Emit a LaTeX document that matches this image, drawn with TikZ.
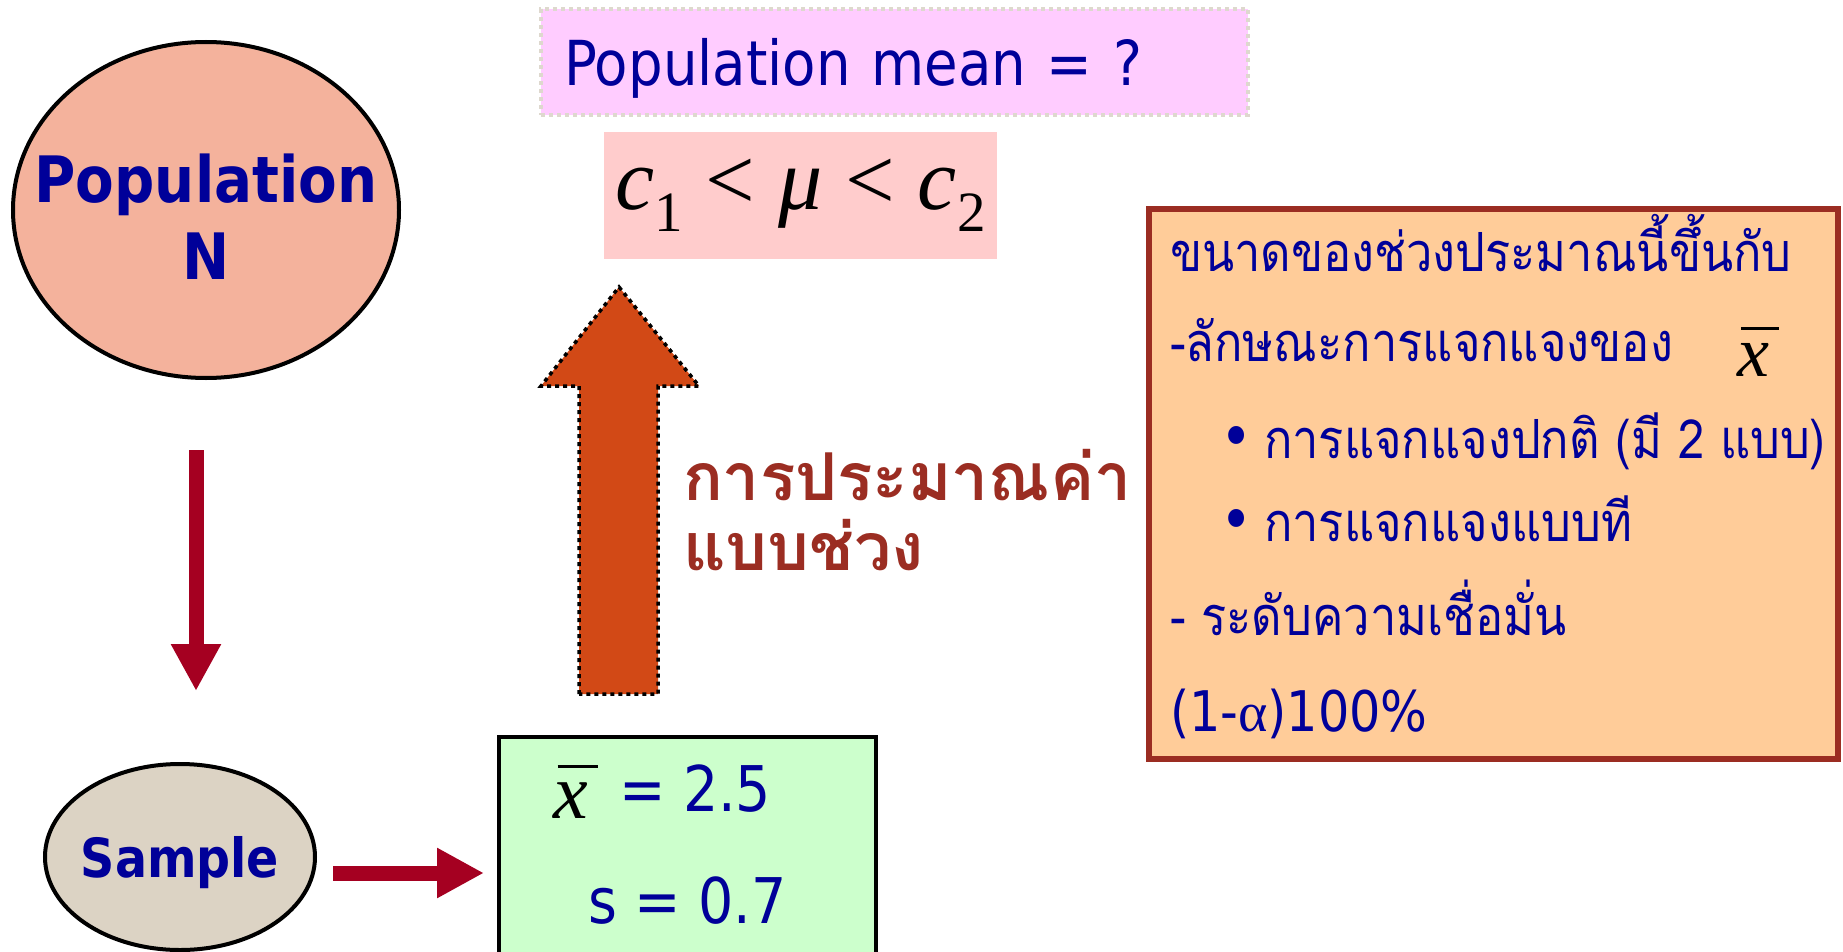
\documentclass[tikz,border=0pt]{standalone}
\usepackage[no-math]{fontspec}
\setmainfont[FakeStretch=0.88]{DejaVu Sans}
\newfontfamily\thai[Script=Thai,FakeStretch=0.87]{Loma}
\newfontfamily\thaib[Script=Thai]{Loma}
\newfontfamily\tnr{Liberation Serif}
\usetikzlibrary{shapes.geometric,arrows.meta}
\definecolor{navy}{HTML}{000099}
\definecolor{salmon}{HTML}{F4B29C}
\definecolor{beige}{HTML}{DCD3C4}
\definecolor{darkred}{HTML}{A50021}
\definecolor{lilac}{HTML}{FFCCFF}
\definecolor{pinkbox}{HTML}{FFCCCC}
\definecolor{orangearrow}{HTML}{D24916}
\definecolor{brick}{HTML}{9B2D22}
\definecolor{peach}{HTML}{FFCC99}
\definecolor{mint}{HTML}{CCFFCC}
\definecolor{dotgray}{HTML}{DED8CE}
\newcommand\xbarsym{{\tnr\itshape\rlap{\hspace{0.06em}\rule[0.64em]{0.52em}{0.04em}}x}}
\newcommand\subdig[1]{\raisebox{-0.25em}{\fontsize{57}{57}\selectfont\upshape #1}}
\begin{document}
\begin{tikzpicture}[x=1pt,y=-1pt,
  every node/.style={inner sep=0pt,outer sep=0pt},
  popell/.style={ellipse,draw=black,line width=4pt,fill=salmon,
    minimum width=386pt,minimum height=336pt},
  poptext/.style={align=center,text=navy,font=\bfseries\fontsize{64}{77}\selectfont},
  samell/.style={ellipse,draw=black,line width=4pt,fill=beige,
    minimum width=270pt,minimum height=186pt,inner xsep=-12pt,
    text=navy,text depth=0pt,font=\bfseries\fontsize{54}{60}\selectfont},
  redarrow/.style={draw=darkred,line width=15pt,-{Triangle[width=47pt,length=47pt]}},
  meanbox/.style={rectangle,fill=lilac,draw=dotgray,line width=4pt,
    dash pattern=on 4pt off 4pt,minimum width=707pt,minimum height=106pt,
    text width=661pt,align=left,text depth=0pt,text=navy,
    font=\fontsize{62}{70}\selectfont},
  cibox/.style={rectangle,fill=pinkbox,minimum width=393pt,minimum height=127pt,
    text height=27pt,text depth=0pt,
    font=\fontsize{88}{90}\selectfont\tnr\itshape},
  bigarrow/.style={fill=orangearrow,draw=black,line width=3.5pt,
    dash pattern=on 4pt off 4pt},
  estlabel/.style={anchor=base west,text=brick,font=\thaib\bfseries\fontsize{66}{70}\selectfont},
  infobox/.style={rectangle,fill=peach,draw=brick,line width=6pt,
    minimum width=689pt,minimum height=550pt},
  infotext/.style={anchor=base west,text=navy,font=\thai\fontsize{54}{60}\selectfont},
  bulletdot/.style={anchor=base west,text=navy,font=\fontsize{62}{64}\selectfont},
  stattext/.style={anchor=base west,text=navy,font=\fontsize{63}{70}\selectfont},
  statbox/.style={rectangle,fill=mint,draw=black,line width=4pt,
    minimum width=377pt,minimum height=230pt}
]
\useasboundingbox (0,0) rectangle (1843,952);

% population and sample
\node[popell] (pop) at (206,210) {};
\node[poptext] (poplabel) at ([yshift=-7pt]pop.center) {Population\\N};
\node[samell] (sample) at (180,857) {Sample};
\draw[redarrow,shorten <=72pt,shorten >=73pt]
  ([xshift=-10pt]pop.south) -- ([xshift=16pt]sample.north);

% statistics box
\node[statbox,anchor=north west] (stat) at (499,737) {};
\node[anchor=base west,font=\fontsize{78}{80}\selectfont] (xb) at (553,818) {\xbarsym};
\node[stattext] (xv) at (619,811) {= 2.5};
\node[stattext] (sv) at (588,923) {s = 0.7};
\draw[redarrow,shorten <=18pt,shorten >=15pt]
  ([yshift=-16pt]sample.east) -- ([yshift=-21pt]stat.west);

% estimation arrow
\filldraw[bigarrow] (579,694) -- (579,386) -- (541,386) -- (619,287)
  -- (699,386) -- (658,386) -- (658,694) -- cycle;
\node[estlabel] (est1) at (683,500) {การประมาณค่า};
\node[estlabel] (est2) at (683,570) {แบบช่วง};

% top boxes
\node[meanbox,anchor=north west] (mean) at (541,9) {Population mean = ?};
\node[cibox] (ci) at (800.5,195.5)
  {c\subdig{1}\hspace{0.26em}{\upshape <}\hspace{0.26em}μ\hspace{0.26em}{\upshape <}\hspace{0.26em}c\subdig{2}};

% information box
\node[infobox,anchor=north west] (info) at (1149,209) {};
\node[infotext] (l1) at (1170,271) {ขนาดของช่วงประมาณนี้ขึ้นกับ};
\node[infotext] (l2) at (1170,361) {-ลักษณะการแจกแจงของ};
\node[anchor=base west,font=\fontsize{72}{76}\selectfont] (l2x) at (1737,376) {\xbarsym};
\node[bulletdot] (b1) at (1220,458) {•};
\node[infotext] (l3) at (1264,458) {การแจกแจงปกติ (มี 2 แบบ)};
\node[bulletdot] (b2) at (1220,541) {•};
\node[infotext] (l4) at (1264,541) {การแจกแจงแบบที};
\node[infotext] (l5) at (1170,635) {- ระดับความเชื่อมั่น};
\node[infotext,font=\fontsize{56}{60}\selectfont] (l6) at (1170,731) {(1-{\tnr α})100\%};
\end{tikzpicture}
\end{document}
